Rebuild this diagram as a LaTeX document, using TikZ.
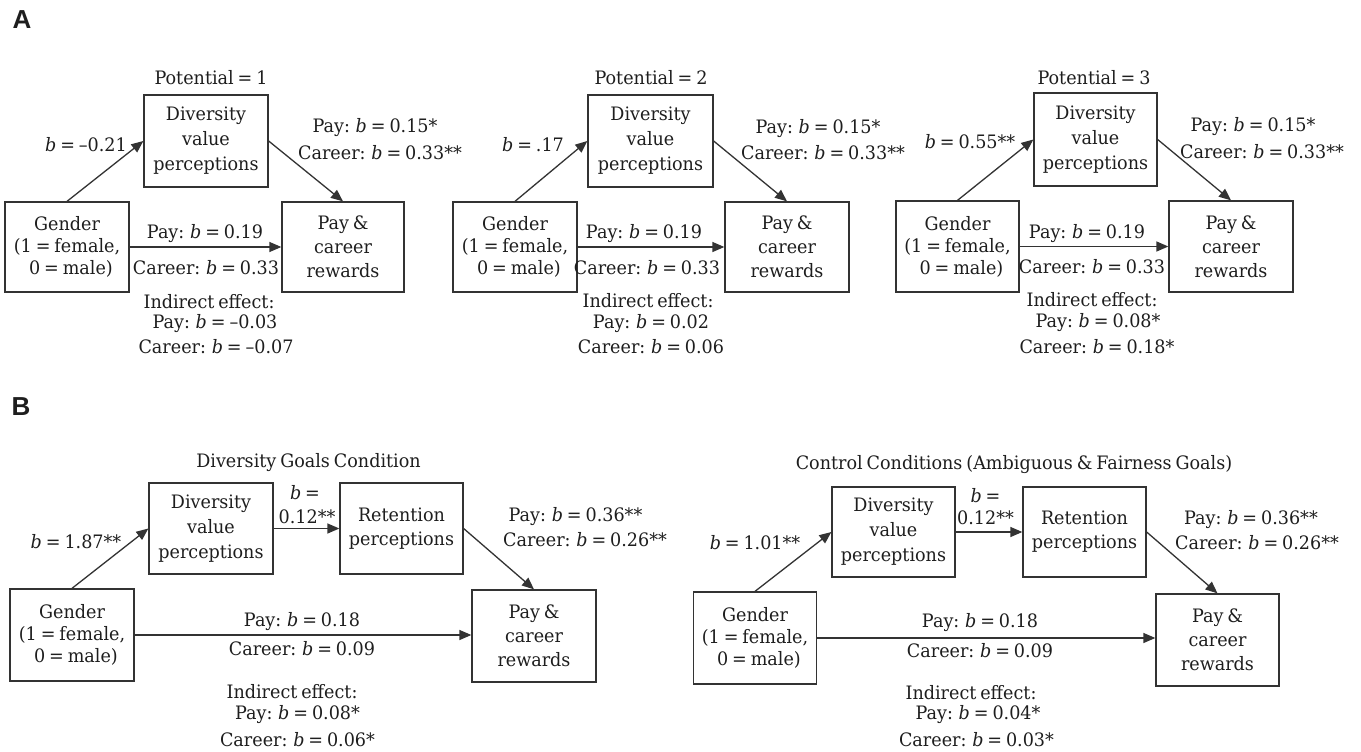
\documentclass[tikz,border=0pt]{standalone}
\usepackage{fontspec}
\usetikzlibrary{arrows.meta}
\setmainfont{DejaVu Serif}[FakeStretch=0.95, WordSpace=0.7]
\newfontfamily\panelfont{Liberation Sans}
\definecolor{ink}{HTML}{1E1E1E}
\definecolor{edge}{HTML}{333333}
\newcommand\fA{\fontsize{18.5}{24}\selectfont}
\newcommand\bb{\textit{b}}
\begin{document}
\begin{tikzpicture}[x=1pt,y=-1pt,
  lab/.style={font=\fA, text=ink, inner sep=0pt},
  boxA/.style={draw=edge, line width=1.3pt, align=center, inner sep=0pt, font=\fA, text=ink},
  arr/.style={draw=edge, line width=1.3pt, -{Triangle[length=12pt,width=10pt]}},
  panel/.style={font=\panelfont\bfseries\fontsize{26}{26}\selectfont, text=ink, inner sep=0pt}]
\useasboundingbox (0,0) rectangle (1361,752);
\fill[white] (0,0) rectangle (1361,752);

\node[panel] (pA) at (22,20) {A};
\node[panel] (pB) at (21,407) {B};

% ---------- A1 ----------
\node[lab] (t1) at (211,78) {Potential = 1};
\node[boxA, minimum width=124pt, minimum height=92pt] (d1) at (206,141) {Diversity\\[1pt]value\\[1pt]perceptions};
\node[boxA, minimum width=124pt, minimum height=90pt] (g1) at (67,247) {Gender\\[-2pt](1 = female,\\[-2pt]\ \ 0 = male)};
\node[boxA, minimum width=122pt, minimum height=90pt] (p1) at (343,247) {Pay \&\\career\\rewards};
\draw[arr] (g1.north) -- (d1.west);
\draw[arr] (d1.east) -- (p1.north);
\draw[arr] (g1.east) -- (g1.east -| p1.west);
\node[lab] (a1a) at (86,145) {\bb{} = –0.21};
\node[lab] (a1b) at (375,128) {Pay: \bb{} = 0.15*};
\node[lab] (a1c) at (380,153) {Career: \bb{} = 0.33**};
\node[lab] (a1d) at (205,234) {Pay: \bb{} = 0.19};
\node[lab] (a1e) at (206,268) {Career: \bb{} = 0.33};
\node[lab] (a1f) at (209,302) {Indirect effect:};
\node[lab] (a1g) at (215,324) {Pay: \bb{} = –0.03};
\node[lab] (a1h) at (216,347) {Career: \bb{} = –0.07};

% ---------- A2 ----------
\node[lab] (t2) at (651,78) {Potential = 2};
\node[boxA, minimum width=125pt, minimum height=92pt] (d2) at (650.5,141) {Diversity\\[1pt]value\\[1pt]perceptions};
\node[boxA, minimum width=124pt, minimum height=90pt] (g2) at (515,247) {Gender\\[-2pt](1 = female,\\[-2pt]\ \ 0 = male)};
\node[boxA, minimum width=124pt, minimum height=90pt] (p2) at (787,247) {Pay \&\\career\\rewards};
\draw[arr] (g2.north) -- (d2.west);
\draw[arr] (d2.east) -- (p2.north);
\draw[arr] (g2.east) -- (g2.east -| p2.west);
\node[lab] (a2a) at (533,145) {\bb{} = .17};
\node[lab] (a2b) at (818,129) {Pay: \bb{} = 0.15*};
\node[lab] (a2c) at (823,153) {Career: \bb{} = 0.33**};
\node[lab] (a2d) at (644,234) {Pay: \bb{} = 0.19};
\node[lab] (a2e) at (647,268) {Career: \bb{} = 0.33};
\node[lab] (a2f) at (648,301) {Indirect effect:};
\node[lab] (a2g) at (651,324) {Pay: \bb{} = 0.02};
\node[lab] (a2h) at (651,347) {Career: \bb{} = 0.06};

% ---------- A3 ----------
\node[lab] (t3) at (1094,78) {Potential = 3};
\node[boxA, minimum width=123pt, minimum height=93pt] (d3) at (1095.5,139.5) {Diversity\\[1pt]value\\[1pt]perceptions};
\node[boxA, minimum width=123pt, minimum height=91pt] (g3) at (957.5,246.5) {Gender\\[-2pt](1 = female,\\[-2pt]\ \ 0 = male)};
\node[boxA, minimum width=124pt, minimum height=91pt] (p3) at (1231,246.5) {Pay \&\\career\\rewards};
\draw[arr] (g3.north) -- (d3.west);
\draw[arr] (d3.east) -- (p3.north);
\draw[arr] (g3.east) -- (g3.east -| p3.west);
\node[lab] (a3a) at (970,142) {\bb{} = 0.55**};
\node[lab] (a3b) at (1253,127) {Pay: \bb{} = 0.15*};
\node[lab] (a3c) at (1262,152) {Career: \bb{} = 0.33**};
\node[lab] (a3d) at (1087,234) {Pay: \bb{} = 0.19};
\node[lab] (a3e) at (1092,267) {Career: \bb{} = 0.33};
\node[lab] (a3f) at (1092,300) {Indirect effect:};
\node[lab] (a3g) at (1098,323) {Pay: \bb{} = 0.08*};
\node[lab] (a3h) at (1097,347) {Career: \bb{} = 0.18*};

% ---------- B1 ----------
\node[lab] (tb1) at (308.5,463) {Diversity Goals Condition};
\node[boxA, minimum width=124pt, minimum height=91pt] (db1) at (211,528.5) {Diversity\\[1pt]value\\[1pt]perceptions};
\node[boxA, minimum width=123pt, minimum height=91pt] (rb1) at (401.5,528.5) {Retention\\perceptions};
\node[boxA, minimum width=124pt, minimum height=92pt] (gb1) at (72,635) {Gender\\[-2pt](1 = female,\\[-2pt]\ \ 0 = male)};
\node[boxA, minimum width=124pt, minimum height=92pt] (pb1) at (534,636) {Pay \&\\career\\rewards};
\draw[arr] (gb1.north) -- (db1.west);
\draw[arr] (db1.east) -- (rb1.west);
\draw[arr] (rb1.east) -- (pb1.north);
\draw[arr] (gb1.east) -- (gb1.east -| pb1.west);
\node[lab] (b1a) at (76,542) {\bb{} = 1.87**};
\node[lab] (b1b) at (305,493) {\bb{} =};
\node[lab] (b1c) at (307,517) {0.12**};
\node[lab] (b1d) at (575.5,517) {Pay: \bb{} = 0.36**};
\node[lab] (b1e) at (585,540) {Career: \bb{} = 0.26**};
\node[lab] (b1f) at (302,622) {Pay: \bb{} = 0.18};
\node[lab] (b1g) at (302,649) {Career: \bb{} = 0.09};
\node[lab] (b1h) at (292,692) {Indirect effect:};
\node[lab] (b1i) at (297.5,715) {Pay: \bb{} = 0.08*};
\node[lab] (b1j) at (297.5,740) {Career: \bb{} = 0.06*};

% ---------- B2 ----------
\node[lab] (tb2) at (1014,465) {Control Conditions (Ambiguous \& Fairness Goals)};
\node[boxA, minimum width=123pt, minimum height=90pt] (db2) at (893.5,532) {Diversity\\[1pt]value\\[1pt]perceptions};
\node[boxA, minimum width=123pt, minimum height=90pt] (rb2) at (1084.5,532) {Retention\\perceptions};
\node[boxA, minimum width=123pt, minimum height=92pt] (gb2) at (755,638) {Gender\\[-2pt](1 = female,\\[-2pt]\ \ 0 = male)};
\node[boxA, minimum width=123pt, minimum height=92pt] (pb2) at (1217.5,640) {Pay \&\\career\\rewards};
\draw[arr] (gb2.north) -- (db2.west);
\draw[arr] (db2.east) -- (rb2.west);
\draw[arr] (rb2.east) -- (pb2.north);
\draw[arr] (gb2.east) -- (gb2.east -| pb2.west);
\node[lab] (b2a) at (755,543) {\bb{} = 1.01**};
\node[lab] (b2b) at (985.5,496) {\bb{} =};
\node[lab] (b2c) at (985.5,518) {0.12**};
\node[lab] (b2d) at (1251,520) {Pay: \bb{} = 0.36**};
\node[lab] (b2e) at (1257,543) {Career: \bb{} = 0.26**};
\node[lab] (b2f) at (980,623) {Pay: \bb{} = 0.18};
\node[lab] (b2g) at (980,651) {Career: \bb{} = 0.09};
\node[lab] (b2h) at (971,693) {Indirect effect:};
\node[lab] (b2i) at (978,715) {Pay: \bb{} = 0.04*};
\node[lab] (b2j) at (976.5,740) {Career: \bb{} = 0.03*};
\end{tikzpicture}
\end{document}
